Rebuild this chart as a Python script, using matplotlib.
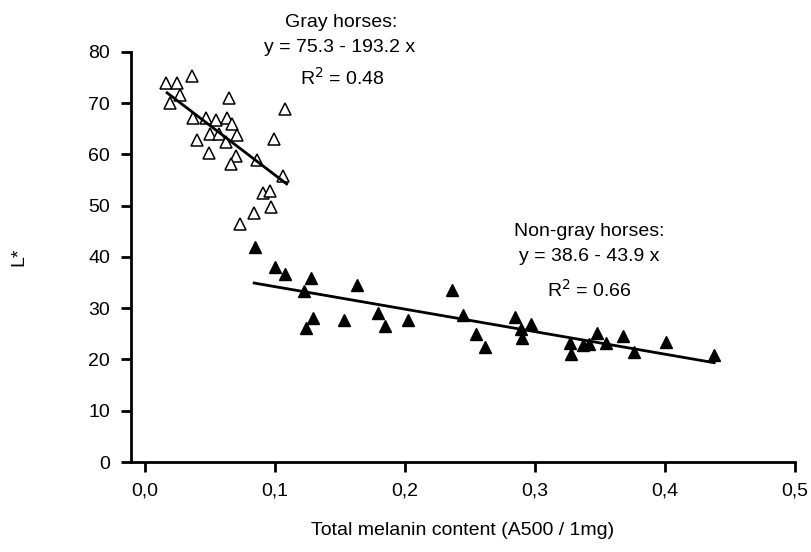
import matplotlib.pyplot as plt
import numpy as np

plt.rcParams['font.family'] = ['Liberation Sans', 'DejaVu Sans']

# gray horses (open triangles)
gray_x = [0.016, 0.025, 0.036, 0.027, 0.019, 0.065, 0.108, 0.037, 0.047, 0.055,
          0.063, 0.067, 0.050, 0.057, 0.071, 0.040, 0.062, 0.099, 0.049, 0.070,
          0.066, 0.086, 0.106, 0.091, 0.096, 0.097, 0.084, 0.073]
gray_y = [74.0, 73.9, 75.3, 71.6, 70.1, 71.0, 68.8, 67.1, 67.2, 66.7,
          67.1, 66.0, 64.0, 64.0, 63.7, 62.8, 62.4, 63.1, 60.2, 59.6,
          58.1, 58.9, 55.8, 52.5, 52.8, 49.7, 48.5, 46.4]

# non-gray horses (filled triangles)
nongray_x = [0.085, 0.100, 0.108, 0.128, 0.122, 0.163, 0.129, 0.124, 0.153, 0.179,
             0.185, 0.202, 0.236, 0.245, 0.255, 0.262, 0.285, 0.297, 0.289, 0.290,
             0.348, 0.327, 0.337, 0.342, 0.328, 0.355, 0.368, 0.376, 0.401, 0.438]
nongray_y = [41.9, 38.0, 36.7, 35.8, 33.4, 34.5, 28.0, 26.2, 27.7, 29.1,
             26.6, 27.8, 33.6, 28.7, 25.0, 22.5, 28.2, 26.9, 26.0, 24.1,
             25.2, 23.2, 22.8, 23.0, 21.0, 23.2, 24.5, 21.4, 23.5, 20.9]

# regression lines (from the equations in the chart)
gray_fit = (75.3, -193.2)
gray_range = [0.017, 0.109]
nongray_fit = (38.6, -43.9)
nongray_range = [0.084, 0.438]

fig = plt.figure(figsize=(8.11, 5.52), dpi=100)
ax = fig.add_axes([0.1615, 0.163, 0.8185, 0.743])

ax.plot(gray_x, gray_y, '^', ms=9, mfc='white', mec='black', mew=1.1, ls='none')
ax.plot(nongray_x, nongray_y, '^', ms=9, mfc='black', mec='black', ls='none')

xr = np.array(gray_range)
ax.plot(xr, gray_fit[0] + gray_fit[1] * xr, color='black', lw=2)
xr = np.array(nongray_range)
ax.plot(xr, nongray_fit[0] + nongray_fit[1] * xr, color='black', lw=2)

ax.set_xlim(-0.0108, 0.5)
ax.set_ylim(0, 80)
ax.set_xticks([0, 0.1, 0.2, 0.3, 0.4, 0.5])
ax.set_xticklabels(['0,0', '0,1', '0,2', '0,3', '0,4', '0,5'])
ax.set_yticks(range(0, 81, 10))

for s in ['top', 'right']:
    ax.spines[s].set_visible(False)
for s in ['left', 'bottom']:
    ax.spines[s].set_linewidth(2)
ax.tick_params(direction='out', length=7, width=2, labelsize=14, pad=8)

ax.set_xlabel('Total melanin content (A500 / 1mg)', fontsize=14, labelpad=16)
ax.set_ylabel('L*', fontsize=14, labelpad=44)

kw = dict(ha='center', va='center', fontsize=14, clip_on=False)
ax.text(0.151, 85.8, 'Gray horses:', **kw)
ax.text(0.150, 80.8, 'y = 75.3 - 193.2 x', **kw)
ax.text(0.152, 75.0, 'R$^{2}$ = 0.48', **kw)
ax.text(0.342, 45.0, 'Non-gray horses:', **kw)
ax.text(0.342, 40.0, 'y = 38.6 - 43.9 x', **kw)
ax.text(0.342, 33.6, 'R$^{2}$ = 0.66', **kw)

fig.savefig('out.png', dpi=100)
